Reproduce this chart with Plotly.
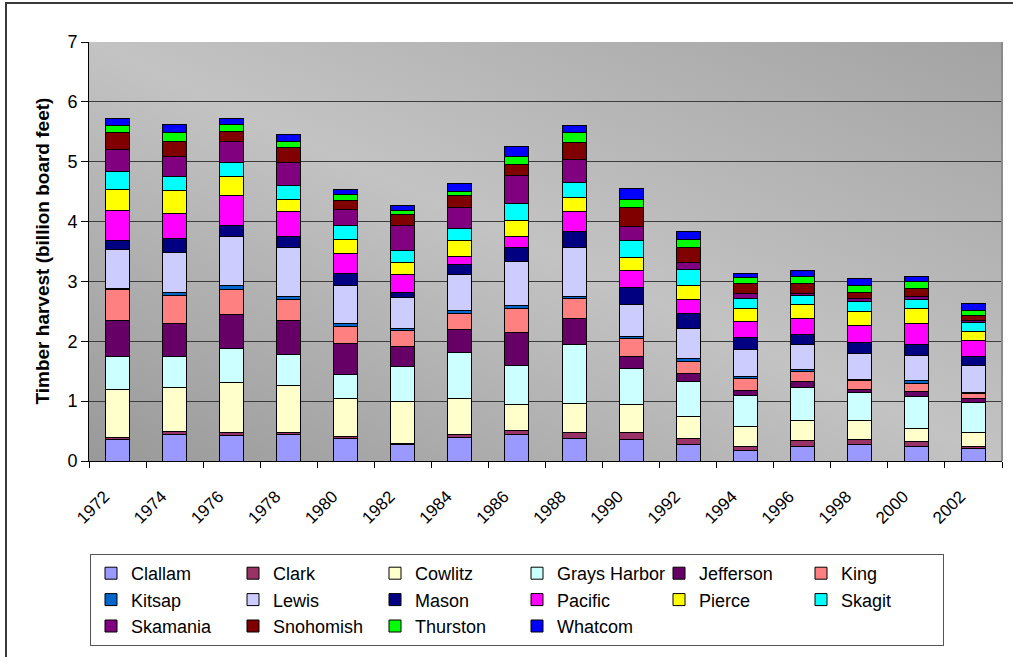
import base64
import plotly.graph_objects as go

# Harvest year (every other year)
years = ["1972", "1974", "1976", "1978", "1980", "1982", "1984", "1986",
         "1988", "1990", "1992", "1994", "1996", "1998", "2000", "2002"]

# Timber harvest by county, billion board feet
clallam = [0.36, 0.44, 0.42, 0.44, 0.38, 0.27, 0.40, 0.44, 0.38, 0.36, 0.27, 0.17, 0.24, 0.28, 0.24, 0.21]
clark = [0.04, 0.05, 0.05, 0.04, 0.03, 0.03, 0.04, 0.07, 0.09, 0.12, 0.11, 0.08, 0.10, 0.08, 0.08, 0.04]
cowlitz = [0.79, 0.73, 0.84, 0.78, 0.63, 0.70, 0.60, 0.43, 0.49, 0.47, 0.37, 0.33, 0.34, 0.31, 0.23, 0.23]
grays_harbor = [0.56, 0.53, 0.57, 0.52, 0.40, 0.58, 0.78, 0.66, 0.98, 0.59, 0.58, 0.51, 0.54, 0.47, 0.53, 0.49]
jefferson = [0.59, 0.54, 0.56, 0.56, 0.52, 0.34, 0.38, 0.54, 0.44, 0.21, 0.14, 0.08, 0.10, 0.06, 0.08, 0.08]
king = [0.52, 0.48, 0.43, 0.36, 0.29, 0.26, 0.27, 0.40, 0.33, 0.29, 0.20, 0.21, 0.17, 0.15, 0.14, 0.07]
kitsap = [0.02, 0.04, 0.07, 0.04, 0.04, 0.04, 0.04, 0.05, 0.04, 0.04, 0.04, 0.04, 0.04, 0.02, 0.04, 0.02]
lewis = [0.65, 0.68, 0.81, 0.82, 0.65, 0.51, 0.61, 0.74, 0.82, 0.53, 0.50, 0.44, 0.41, 0.42, 0.43, 0.46]
mason = [0.16, 0.22, 0.19, 0.19, 0.19, 0.08, 0.16, 0.23, 0.27, 0.29, 0.25, 0.20, 0.18, 0.19, 0.17, 0.15]
pacific = [0.50, 0.42, 0.50, 0.41, 0.34, 0.31, 0.14, 0.19, 0.33, 0.28, 0.24, 0.27, 0.26, 0.29, 0.35, 0.26]
pierce = [0.34, 0.39, 0.32, 0.21, 0.23, 0.20, 0.26, 0.26, 0.24, 0.22, 0.23, 0.21, 0.23, 0.23, 0.25, 0.16]
skagit = [0.31, 0.23, 0.22, 0.23, 0.23, 0.20, 0.21, 0.30, 0.24, 0.28, 0.27, 0.17, 0.15, 0.16, 0.16, 0.14]
skamania = [0.37, 0.34, 0.36, 0.39, 0.27, 0.42, 0.35, 0.46, 0.38, 0.23, 0.12, 0.09, 0.04, 0.06, 0.04, 0.03]
snohomish = [0.27, 0.25, 0.17, 0.24, 0.16, 0.17, 0.19, 0.19, 0.29, 0.32, 0.25, 0.17, 0.16, 0.09, 0.15, 0.09]
thurston = [0.13, 0.15, 0.11, 0.10, 0.09, 0.08, 0.08, 0.13, 0.17, 0.14, 0.13, 0.09, 0.13, 0.12, 0.11, 0.08]
whatcom = [0.12, 0.14, 0.11, 0.12, 0.08, 0.08, 0.12, 0.17, 0.12, 0.19, 0.14, 0.08, 0.10, 0.12, 0.08, 0.12]

counties = ["Clallam", "Clark", "Cowlitz", "Grays Harbor", "Jefferson", "King",
            "Kitsap", "Lewis", "Mason", "Pacific", "Pierce", "Skagit",
            "Skamania", "Snohomish", "Thurston", "Whatcom"]
series = [clallam, clark, cowlitz, grays_harbor, jefferson, king, kitsap, lewis,
          mason, pacific, pierce, skagit, skamania, snohomish, thurston, whatcom]
colors = ["#9999FF", "#993366", "#FFFFCC", "#CCFFFF", "#660066", "#FF8080",
          "#0066CC", "#CCCCFF", "#000080", "#FF00FF", "#FFFF00", "#00FFFF",
          "#800080", "#800000", "#00FF00", "#0000FF"]

FONT = "Liberation Sans, Arial, sans-serif"
W, H = 1013, 657
L, R, T, B = 89, 1002, 42, 461


def px_x(p):
    return (p - L) / (R - L)


def px_y(p):
    return (B - p) / (B - T)


fig = go.Figure()
for name, vals, col in zip(counties, series, colors):
    fig.add_trace(go.Bar(
        x=years, y=vals, name=name,
        marker=dict(color=col, line=dict(color="#000000", width=1)),
    ))

# Diagonal grey shading behind the bars
grad_svg = (
    '<svg xmlns="http://www.w3.org/2000/svg" width="100" height="100" '
    'viewBox="0 0 100 100" preserveAspectRatio="none">'
    '<defs><linearGradient id="g" x1="0" y1="1" x2="1" y2="0">'
    '<stop offset="0" stop-color="#999999"/>'
    '<stop offset="0.5" stop-color="#c3c3c3"/>'
    '<stop offset="1" stop-color="#a3a3a3"/>'
    '</linearGradient></defs>'
    '<rect x="0" y="0" width="100" height="100" fill="url(#g)"/></svg>'
)
grad_uri = "data:image/svg+xml;base64," + base64.b64encode(grad_svg.encode()).decode()

fig.update_layout(
    width=W, height=H,
    margin=dict(l=L, r=W - R, t=T, b=H - B, autoexpand=False),
    paper_bgcolor="#FFFFFF",
    plot_bgcolor="rgba(0,0,0,0)",
    barmode="stack",
    bargap=0.58,
    font=dict(family=FONT, color="#000000"),
    images=[dict(source=grad_uri, xref="paper", yref="paper", x=0, y=1,
                 sizex=1, sizey=1, sizing="stretch", layer="below",
                 xanchor="left", yanchor="top")],
    xaxis=dict(
        type="category", tickson="boundaries", ticks="outside", ticklen=6,
        tickcolor="#000000", showline=True, linecolor="#000000", linewidth=1,
        showgrid=False, tickangle=-45, tickfont=dict(size=17, family=FONT),
        ticklabelstandoff=18, ticklabelshift=-13,
        automargin=False,
    ),
    yaxis=dict(
        range=[0, 7], dtick=1, ticks="outside", ticklen=7, tickcolor="#000000",
        showline=True, linecolor="#000000", linewidth=1,
        showgrid=True, gridcolor="#3c3c3c", gridwidth=1,
        tickfont=dict(size=18, family=FONT), automargin=False,
        zeroline=False,
    ),
    legend=dict(
        orientation="h", traceorder="normal",
        x=px_x(90), xanchor="left", y=px_y(554), yanchor="top",
        entrywidth=97, entrywidthmode="pixels",
        bgcolor="#FFFFFF", bordercolor="#555555", borderwidth=1,
        font=dict(size=18, family=FONT),
    ),
    annotations=[dict(
        text="<b>Timber harvest (billion board feet)</b>",
        xref="paper", yref="paper", x=px_x(42), y=0.5,
        textangle=-90, showarrow=False, xanchor="center", yanchor="middle",
        font=dict(size=19, family=FONT),
    )],
    shapes=[
        # right edge of the plotting area
        dict(type="line", xref="paper", yref="paper", x0=1, x1=1, y0=0, y1=1,
             line=dict(color="#8a8a8a", width=2)),
        # outer frame of the chart
        dict(type="rect", xref="paper", yref="paper",
             x0=px_x(6), x1=px_x(1040), y0=px_y(690), y1=px_y(3),
             line=dict(color="#3a3a3a", width=2), fillcolor="rgba(0,0,0,0)"),
    ],
    showlegend=True,
)

fig.write_html("out.html")
